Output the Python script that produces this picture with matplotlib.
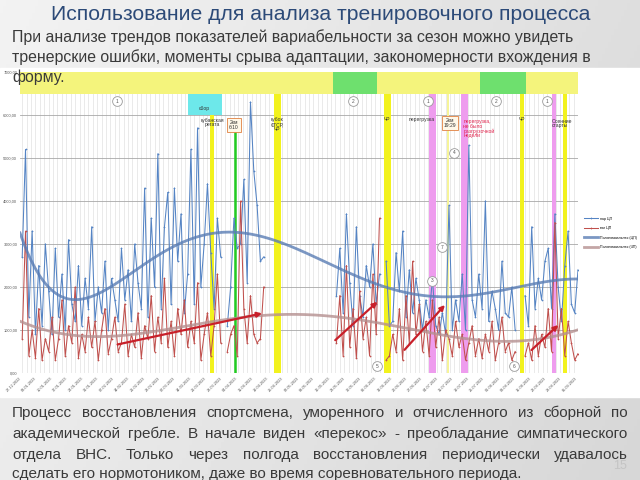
import numpy as np
import pandas as pd
import matplotlib
matplotlib.use("Agg")
import matplotlib.pyplot as plt
from matplotlib.patches import Rectangle

plt.rcParams['font.family'] = ['Liberation Sans', 'DejaVu Sans']

nan = np.nan
# values every 1.5 days starting 27.12.2022
step_days = 1.5
start_date = "2022-12-27"

blue_first = [2700, 5200, 1300, 3300, 900, 2500, 1100, 3000, 1900, 900, 2900,
              1300, 2300, 1000, 3100, 1600, 1200, 2500, 1100, 2200, 1500,
              3400, 1200, 2000, 1400, 2600, 1000, 2200, 1700, 1200, 2900,
              1700, 2400, 1200, 3000, 2100, 1500, 4300, 1300, 3600, 2000,
              5100, 1500, 3400, 4200, 1600, 4300, 2600, 3700, 1400, 2300,
              5200, 1600, 5700, 2000, 3000, 4400, 2800, 1500, 3600, 2700,
              nan, 1100, 2000, 3600,
              2900, 3000, 4500, 2100, 6300, 4700, 3900, 2600, 2700]
red_first = [800, 3300, 400, 1000, 350, 1500, 300, 800, 500, 1300, 300,
             800, 1700, 400, 1100, 700, 2000, 350, 900, 500, 1300,
             600, 1200, 300, 1000, 1500, 450, 800, 1300, 500, 700,
             1600, 400, 900, 600, 1400, 350, 1100, 800, 1800, 500,
             1300, 700, 2200, 600, 1200, 400, 1500, 900, 1700, 600,
             1200, 700, 2100, 300, 900, 1400, 400, 1100, 2300, 700,
             nan, 500, 900, 1100,
             400, 4000, 1500, 700, 1800, 900, 700, 800, 2000]
gap_len = 21
blue_second = [1800, 2900, 1400, 3700, 2100, 1100, 3400, 1800, 1300, 2500,
               2000, 3000, 1600, 2300, nan, 2600, 1100,
               1200, 2800, 1900, 3300, 1300, 2400, 1400, 2200, 1700, 1000,
               1700, 1300, 2200, 1100, 900, 1400, 900,
               3900, 1000, 1700, 1200, 2300, 1000, 5300, 1700,
               1300, 2300, 1500, 4000, 1200, 1900, 1500, 1000, 2600, 1400,
               1300, 2000, 1000, nan, nan, 1800, 1100,
               3400, 1500, 2200, 1700, 2600, 2900, 1500, 3700,
               2000, 1200, 2500, 3300, 1600, 1400, 2400]
red_second = [700, 1800, 400, 2500, 600, 1500, 350, 1900, 800, 1300,
              400, 2300, 900, 3600, nan, 300, 400,
              900, 500, 1500, 300, 1800, 700, 2600, 900, 1600, 500,
              1200, 400, 1700, 600, 1300, 300, 1000,
              800, 400, 1200, 600, 900, 300, 700, 1100,
              400, 800, 350, 900, 500, 1200, 300, 700, 1300, 500,
              700, 300, 500, nan, nan, 400, 700,
              300, 1100, 400, 900, 600, 1500, 500, 3500,
              800, 1500, 400, 1200, 700, 300, 450]

blue = np.array(blue_first + [nan] * gap_len + blue_second, dtype=float)
red = np.array(red_first + [nan] * gap_len + red_second, dtype=float)
days = np.arange(len(blue)) * step_days

# coloured periods (days from start)
top_green = [(141, 161), (207.5, 228.5)]
yellow_bands = [(85, 87), (114, 117.5), (164, 167), (225.5, 227.5), (245, 247)]
pale_bands = [(192.5, 193.5)]
pink_bands = [(184.5, 187.5), (199, 202), (240, 242)]
green_line_day = 96.5

numbers = [("1", 43, 6320), ("2", 150, 6320), ("1", 184, 6320), ("2", 215, 6320),
           ("1", 238, 6320), ("4", 196, 5120), ("7", 190.5, 2920), ("3", 186, 2140),
           ("5", 161, 160), ("6", 223, 160)]
arrows = [((42, 650), (110, 1400)), ((141, 720), (162, 1700)),
          ((172.5, 490), (192.5, 1630)), ((230, 490), (244, 1160))]

fig = plt.figure(figsize=(6.4, 4.8), dpi=100)

# slide background
bg = fig.add_axes([0, 0, 1, 1], zorder=-10)
gx = np.linspace(0, 1, 200)
gy = np.linspace(0, 1, 150)
GX, GY = np.meshgrid(gx, gy)
grad = 0.95 - 0.08 * GX - 0.03 * GY
bg.imshow(grad, cmap='gray', vmin=0, vmax=1, aspect='auto', extent=[0, 1, 0, 1])
bg.set_axis_off()
bg.add_patch(Rectangle((0, 1 - 397 / 480), 1, 329 / 480, color='white', zorder=2))

ax = fig.add_axes([20 / 640, 1 - 373 / 480, 558 / 640, 301 / 480])
ax.set_xlim(-1, 252)
ax.set_ylim(0, 7000)
ax.set_facecolor('white')
for s in ax.spines.values():
    s.set_visible(False)

for d in np.arange(0, 253, 2):
    ax.axvline(d, color='#e2e2e2', lw=0.5, zorder=0)
for v in range(0, 7001, 1000):
    ax.axhline(v, color='#a8a8a8', lw=0.6, zorder=0.5)

ax.axhspan(6500, 7000, color='#f4f47c', zorder=1, lw=0)
for a, b in top_green:
    ax.fill_between([a, b], 6500, 7000, color='#6ee06e', zorder=1.1, lw=0)
ax.fill_between([75, 90.7], 6000, 6500, color='#6de8ea', zorder=1.1, lw=0)
for a, b in yellow_bands:
    ax.axvspan(a, b, ymax=6500 / 7000, color='#f2f21e', zorder=1, lw=0)
for a, b in pale_bands:
    ax.axvspan(a, b, ymax=6500 / 7000, color='#f6f49a', zorder=1, lw=0)
for a, b in pink_bands:
    ax.axvspan(a, b, ymax=6500 / 7000, color='#ee9cee', zorder=1, lw=0)
ax.plot([green_line_day] * 2, [0, 5600], color='#22cc22', lw=1.8, zorder=2)

ok_b = ~np.isnan(blue)
ok_r = ~np.isnan(red)
xs = np.linspace(-1, 252, 300)
tb = np.polyval(np.polyfit(days[ok_b], blue[ok_b], 6), xs)
tr = np.polyval(np.polyfit(days[ok_r], red[ok_r], 6), xs)

ax.plot(days, blue, color='#5584c4', lw=0.75, marker='+', ms=2, mew=0.5, zorder=3, label='пар ЦП')
ax.plot(days, red, color='#c0504d', lw=0.75, marker='+', ms=2, mew=0.5, zorder=3, label='ваг ЦП')
ax.plot(xs, tb, color='#5a7db4', lw=2, alpha=0.8, zorder=4, label='Полиномиальная (ЦП)')
ax.plot(xs, tr, color='#b59090', lw=2, alpha=0.8, zorder=4, label='Полиномиальная (ЧП)')

for (x0, y0), (x1, y1) in arrows:
    ax.annotate('', xy=(x1, y1), xytext=(x0, y0), zorder=6,
                arrowprops=dict(arrowstyle='-|>', color='#c8202a', lw=1.6, mutation_scale=7))

for label, x, y in numbers:
    ax.plot(x, y, 'o', ms=7, mfc='white', mec='#9a9a9a', mew=0.6, zorder=7)
    ax.text(x, y, label, fontsize=3.5, color='#555555', ha='center', va='center', zorder=8)

small = dict(fontsize=3.6, color='#333333', zorder=8)
ax.text(82.5, 6150, 'сбор', ha='center', va='center', **small)
ax.text(86, 5830, 'кубанская\nрегата', ha='center', va='center', linespacing=0.9, **small)
ax.text(96, 5770, '2км\n6:10', ha='center', va='center', linespacing=0.9, **small,
        bbox=dict(boxstyle='square,pad=0.4', fc='#fff8e8', ec='#e08040', lw=0.6))
ax.text(115.5, 5780, 'кубок\nФГСР,\nЧР', ha='center', va='center', linespacing=0.9, **small)
ax.text(165.5, 5900, 'ЧР', ha='center', va='center', **small)
ax.text(181, 5900, 'перегрузка', ha='center', va='center', **small)
ax.text(194, 5810, '2км\n19:29', ha='center', va='center', linespacing=0.9, **small,
        bbox=dict(boxstyle='square,pad=0.4', fc='#fff8e8', ec='#e08040', lw=0.6))
ax.text(200, 5900, 'перегрузка,\nне было\nразгрузочной\nнедели', ha='left', va='top',
        linespacing=0.9, fontsize=3.6, color='#e0204a', zorder=8)
ax.text(226.5, 5900, 'ЧР', ha='center', va='center', **small)
ax.text(240, 5800, 'Осенние\nстарты', ha='left', va='center', linespacing=0.9, **small)

ticks = np.arange(0, 253, 7)
dates = pd.date_range(start_date, periods=len(ticks), freq='7D')
ax.set_xticks(ticks)
ax.set_xticklabels([d.strftime('%d.%m.%Y') for d in dates], rotation=45, ha='right',
                   fontsize=2.8, color='#555555')
ax.set_yticks(range(0, 7001, 1000))
ax.set_yticklabels([f'{v},00' for v in range(0, 7001, 1000)], fontsize=2.8, color='#555555')
ax.tick_params(length=0, pad=2)

ax.legend(loc='upper left', bbox_to_anchor=(1.005, 0.53), fontsize=2.5, frameon=False,
          handlelength=4, handletextpad=0.5, labelspacing=1.6)

# slide texts
fig.text(321 / 640, 1 - 14 / 480, 'Использование для анализа тренировочного процесса',
         fontsize=15.2, color='#2c4a78', ha='center', va='center')
sub = ['При анализе трендов показателей вариабельности за сезон можно увидеть',
       'тренерские ошибки, моменты срыва адаптации, закономерности вхождения в',
       'форму.']
for i, line in enumerate(sub):
    fig.text(12 / 640, 1 - (37 + 20 * i) / 480, line, fontsize=11.4, color='#3a3a3a',
             ha='left', va='center', zorder=10)

para = ['Процесс восстановления спортсмена, уморенного и отчисленного из сборной по',
        'академической гребле. В начале виден «перекос» -  преобладание симпатического',
        'отдела ВНС. Только через полгода восстановления периодически удавалось',
        'сделать его нормотоником, даже во время соревновательного периода.']
line_y = [413, 434, 455, 474]
renderer = fig.canvas.get_renderer()
for i, line in enumerate(para):
    words = line.split()
    y = 1 - line_y[i] / 480
    if i == len(para) - 1:
        fig.text(12 / 640, y, line, fontsize=11, color='#3a3a3a', ha='left', va='center')
        continue
    texts = [fig.text(0, y, w, fontsize=11, color='#3a3a3a', ha='left', va='center')
             for w in words]
    widths = [t.get_window_extent(renderer).width for t in texts]
    gap = (628 - 12 - sum(widths)) / (len(words) - 1)
    x = 12
    for t, w in zip(texts, widths):
        t.set_x(x / 640)
        x += w + gap

fig.text(620 / 640, 1 - 466 / 480, '15', fontsize=9, color='#c4c4c4', ha='center', va='center')

fig.savefig('out.png', dpi=100)
